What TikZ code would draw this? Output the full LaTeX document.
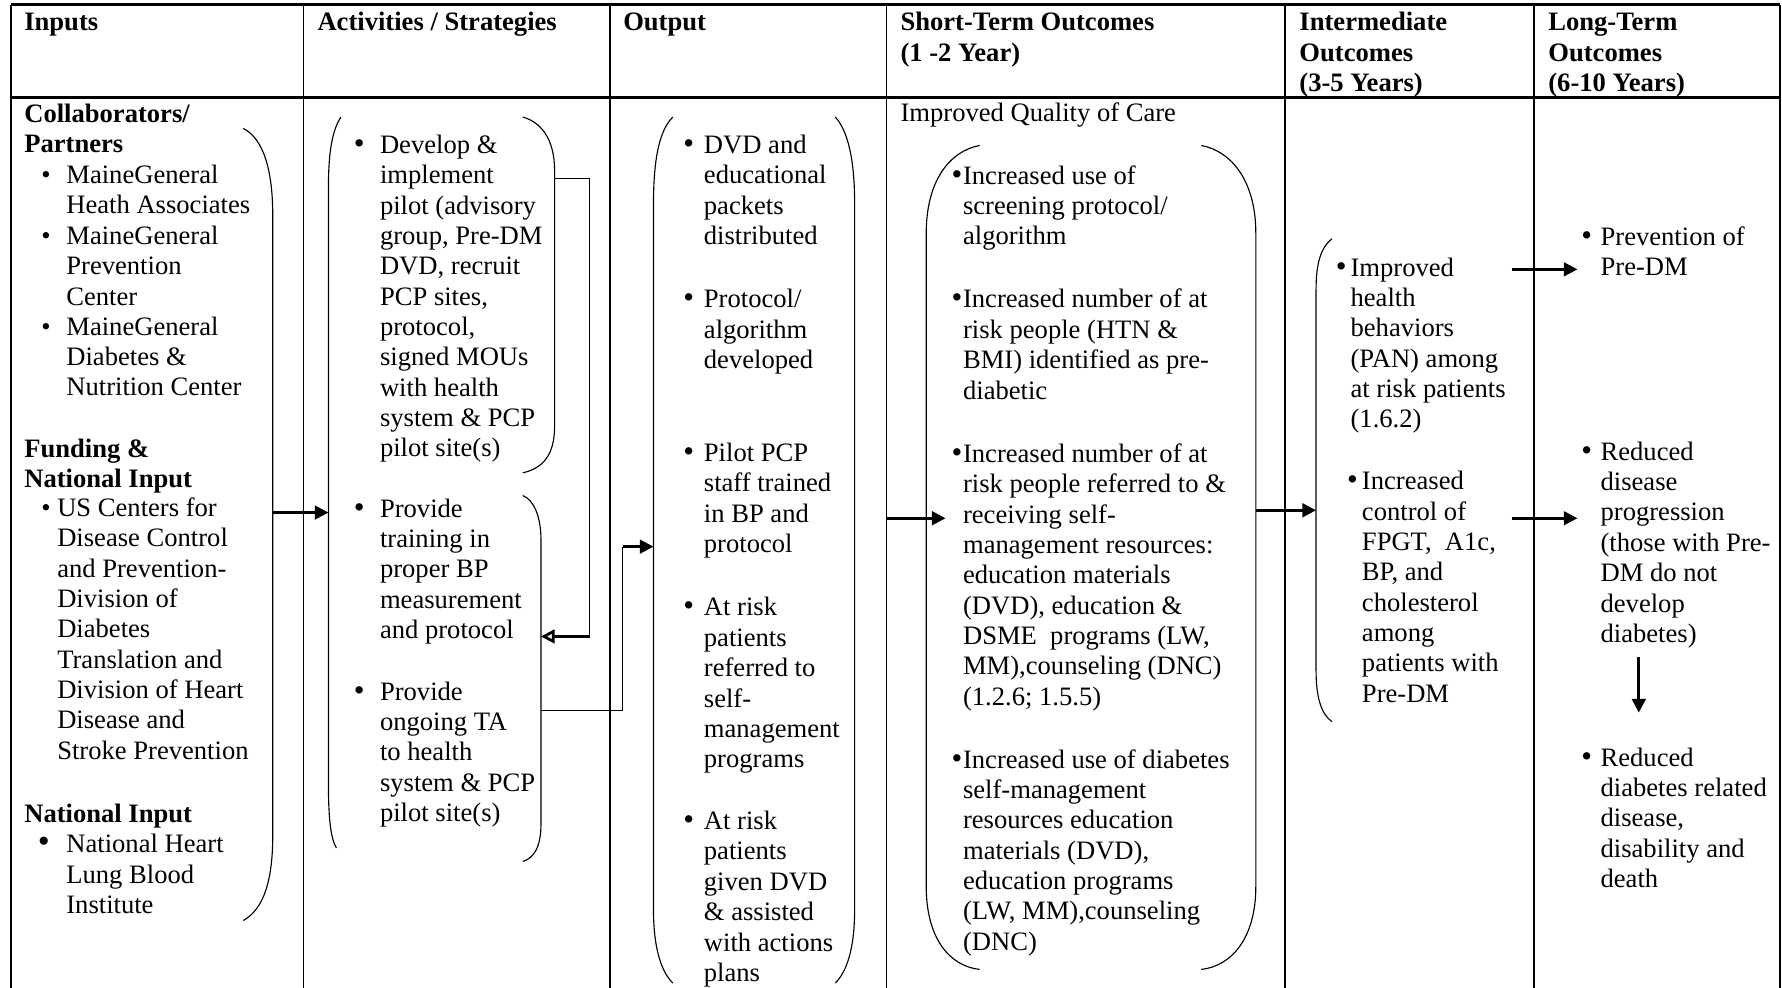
\documentclass[tikz,border=0pt]{standalone}
\usepackage{fontspec}
\setmainfont{Liberation Serif}
\usetikzlibrary{arrows.meta}
% lines of a cell, baseline on the first line
\newcommand{\cell}[1]{\begin{tabular}[t]{@{}l@{}}#1\end{tabular}}

\begin{document}
\begin{tikzpicture}[x=0.5pt,y=-0.5pt,>={Triangle[length=6pt,width=6pt]},
  font=\fontsize{11.7}{13.35}\selectfont,
  txt/.style={anchor=base west,inner sep=0pt},
  head/.style={txt,font=\fontsize{11.7}{13.35}\selectfont\bfseries},
  bul/.style={anchor=base west,inner sep=0pt},
  bigbul/.style={bul,font=\fontsize{13.5}{13.5}\selectfont},
  rule/.style={black,line width=0.8pt},
  brace/.style={black,line width=0.5pt},
  link/.style={black,line width=0.5pt},
  arr/.style={->,black,line width=1.2pt}]
  \useasboundingbox (0,0) rectangle (1568,869);

  % table frame
  \draw[rule,line width=1.4pt] (10,4) -- (1566,4);
  \draw[rule,line width=1.1pt] (10,86) -- (1566,86);
  \draw[rule] (10,4) -- (10,869);
  \draw[rule] (267,4) -- (267,869);
  \draw[rule] (537,4) -- (537,869);
  \draw[rule] (780,4) -- (780,869);
  \draw[rule] (1131,4) -- (1131,869);
  \draw[rule] (1350,4) -- (1350,869);
  \draw[rule] (1566,4) -- (1566,869);

  % column heads
  \node (hin) at (21,27) [head] {Inputs};
  \node (hact) at (279,27) [head] {Activities / Strategies};
  \node (hout) at (548,27) [head] {Output};
  \node (hst) at (792,27) [head] {\cell{Short-Term Outcomes\\(1 -2 Year)}};
  \node (him) at (1143,27) [head] {\cell{Intermediate\\Outcomes\\(3-5 Years)}};
  \node (hlt) at (1362,27) [head] {\cell{Long-Term\\Outcomes\\(6-10 Years)}};

  % inputs
  \node (partners) at (21,107.5) [head] {\cell{Collaborators/\\Partners}};
  \node (b1) at (36,161.5) [bul] {\textbullet};
  \node (mgha) at (58,161.5) [txt] {\cell{MaineGeneral\\Heath Associates}};
  \node (b2) at (36,215) [bul] {\textbullet};
  \node (mgpc) at (58,215) [txt] {\cell{MaineGeneral\\Prevention\\Center}};
  \node (b3) at (36,295) [bul] {\textbullet};
  \node (mgdn) at (58,295) [txt] {\cell{MaineGeneral\\Diabetes \&\\Nutrition Center}};
  \node (funding) at (21,402.5) [head] {\cell{Funding \&\\National Input}};
  \node (b4) at (36,454.5) [bul] {\textbullet};
  \node (cdc) at (50,454.5) [txt] {\cell{US Centers for\\Disease Control\\and Prevention-\\Division of\\Diabetes\\Translation and\\Division of Heart\\Disease and\\Stroke Prevention}};
  \node (natin) at (21,723.5) [head] {National Input};
  \node (b5) at (33,750.5) [bul] {\fontsize{15}{15}\selectfont\textbullet};
  \node (nhlbi) at (58,750.5) [txt] {\cell{National Heart\\Lung Blood\\Institute}};

  % activities
  \node (b6) at (311,135) [bigbul] {\textbullet};
  \node (pilot) at (334,135) [txt] {\cell{Develop \&\\implement\\pilot (advisory\\group, Pre-DM\\DVD, recruit\\PCP sites,\\protocol,\\signed MOUs\\with health\\system \& PCP\\pilot site(s)}};
  \node (b7) at (311,455) [bigbul] {\textbullet};
  \node (train) at (334,455) [txt] {\cell{Provide\\training in\\proper BP\\measurement\\and protocol}};
  \node (b8) at (311,616) [bigbul] {\textbullet};
  \node (ta) at (334,616) [txt] {\cell{Provide\\ongoing TA\\to health\\system \& PCP\\pilot site(s)}};

  % output
  \node (b9) at (601,135) [bigbul] {\textbullet};
  \node (dvd) at (619,135) [txt] {\cell{DVD and\\educational\\packets\\distributed}};
  \node (b10) at (601,271) [bigbul] {\textbullet};
  \node (proto) at (619,271) [txt] {\cell{Protocol/\\algorithm\\developed}};
  \node (b11) at (601,406) [bigbul] {\textbullet};
  \node (staff) at (619,406) [txt] {\cell{Pilot PCP\\staff trained\\in BP and\\protocol}};
  \node (b12) at (601,542) [bigbul] {\textbullet};
  \node (refer) at (619,542) [txt] {\cell{At risk\\patients\\referred to\\self-\\management\\programs}};
  \node (b13) at (601,730) [bigbul] {\textbullet};
  \node (given) at (619,730) [txt] {\cell{At risk\\patients\\given DVD\\\& assisted\\with actions\\plans}};

  % short-term outcomes
  \node (care) at (792,107) [txt] {Improved Quality of Care};
  \node (b14) at (837,162) [bigbul] {\textbullet};
  \node (screen) at (847,162) [txt] {\cell{Increased use of\\screening protocol/\\algorithm}};
  \node (b15) at (837,271) [bigbul] {\textbullet};
  \node (ident) at (847,271) [txt] {\cell{Increased number of at\\risk people (HTN \&\\BMI) identified as pre-\\diabetic}};
  \node (b16) at (837,407) [bigbul] {\textbullet};
  \node (recv) at (847,407) [txt] {\cell{Increased number of at\\risk people referred to \&\\receiving self-\\management resources:\\education materials\\(DVD), education \&\\DSME\ \ programs (LW,\\MM),counseling (DNC)\\(1.2.6; 1.5.5)}};
  \node (b17) at (837,676) [bigbul] {\textbullet};
  \node (use) at (847,676) [txt] {\cell{Increased use of diabetes\\self-management\\resources education\\materials (DVD),\\education programs\\(LW, MM),counseling\\(DNC)}};

  % intermediate outcomes
  \node (b18) at (1175,243) [bigbul] {\textbullet};
  \node (behav) at (1188,243) [txt] {\cell{Improved\\health\\behaviors\\(PAN) among\\at risk patients\\(1.6.2)}};
  \node (b19) at (1185,431) [bigbul] {\textbullet};
  \node (ctrl) at (1198,431) [txt] {\cell{Increased\\control of\\FPGT,\ \ A1c,\\BP, and\\cholesterol\\among\\patients with\\Pre-DM}};

  % long-term outcomes
  \node (b20) at (1391,216) [bigbul] {\textbullet};
  \node (prev) at (1408,216) [txt] {\cell{Prevention of\\Pre-DM}};
  \node (b21) at (1391,405) [bigbul] {\textbullet};
  \node (prog) at (1408,405) [txt] {\cell{Reduced\\disease\\progression\\(those with Pre-\\DM do not\\develop\\diabetes)}};
  \node (b22) at (1391,674) [bigbul] {\textbullet};
  \node (death) at (1408,674) [txt] {\cell{Reduced\\diabetes related\\disease,\\disability and\\death}};

  % brackets
  \draw[brace] (214,113) .. controls (232,122) and (240,150) .. (240,190) -- (240,735) .. controls (240,775) and (232,800) .. (214,810);
  \draw[brace] (300,103) .. controls (292,115) and (289,135) .. (289,165) -- (289,690) .. controls (289,720) and (291,738) .. (296,746);
  \draw[brace] (460,103) .. controls (478,108) and (488,125) .. (488,150) -- (488,375) .. controls (488,400) and (478,412) .. (460,416);
  \draw[brace] (460,436) .. controls (470,440) and (476,455) .. (476,475) -- (476,725) .. controls (476,745) and (470,755) .. (460,758);
  \draw[brace] (592,103) .. controls (580,115) and (575,140) .. (575,180) -- (575,800) .. controls (575,835) and (582,855) .. (592,865);
  \draw[brace] (735,103) .. controls (746,115) and (752,140) .. (752,180) -- (752,800) .. controls (752,835) and (745,855) .. (735,865);
  \draw[brace] (862,128) .. controls (835,133) and (815,160) .. (815,205) -- (815,780) .. controls (815,825) and (835,850) .. (862,853);
  \draw[brace] (1057,128) .. controls (1084,133) and (1105,160) .. (1105,205) -- (1105,780) .. controls (1105,825) and (1084,850) .. (1057,853);
  \draw[brace] (1172,210) .. controls (1162,218) and (1158,232) .. (1158,255) -- (1158,590) .. controls (1158,612) and (1162,628) .. (1172,635);

  % connector ends
  \coordinate (inR) at (240,451); % inputs bracket
  \coordinate (actL) at (289,451);
  \coordinate (pilotR) at (488,157);
  \coordinate (pilotT) at (519,560); % turn
  \coordinate (trainR) at (476,560);
  \coordinate (taR) at (476,625);
  \coordinate (taT) at (548,481); % turn
  \coordinate (outL) at (575,481);
  \coordinate (outR) at (780,456);
  \coordinate (stL) at (832,456);
  \coordinate (stR) at (1105,449);
  \coordinate (imL) at (1158,449);
  \coordinate (behavR) at (1330,237);
  \coordinate (prevL) at (1388,237);
  \coordinate (ctrlR) at (1330,456);
  \coordinate (progL) at (1388,456);
  \coordinate (progB) at (1442,578);
  \coordinate (deathT) at (1442,627);

  \draw[arr] (inR) to (actL);
  \draw[link] (pilotR) -| (pilotT);
  \draw[arr,>={Triangle[open,length=6pt,width=6pt]}] (pilotT) to (trainR);
  \draw[link] (taR) -| (taT);
  \draw[arr] (taT) to (outL);
  \draw[arr] (outR) to (stL);
  \draw[arr] (stR) to (imL);
  \draw[arr] (behavR) to (prevL);
  \draw[arr] (ctrlR) to (progL);
  \draw[arr] (progB) to (deathT);
\end{tikzpicture}
\end{document}
